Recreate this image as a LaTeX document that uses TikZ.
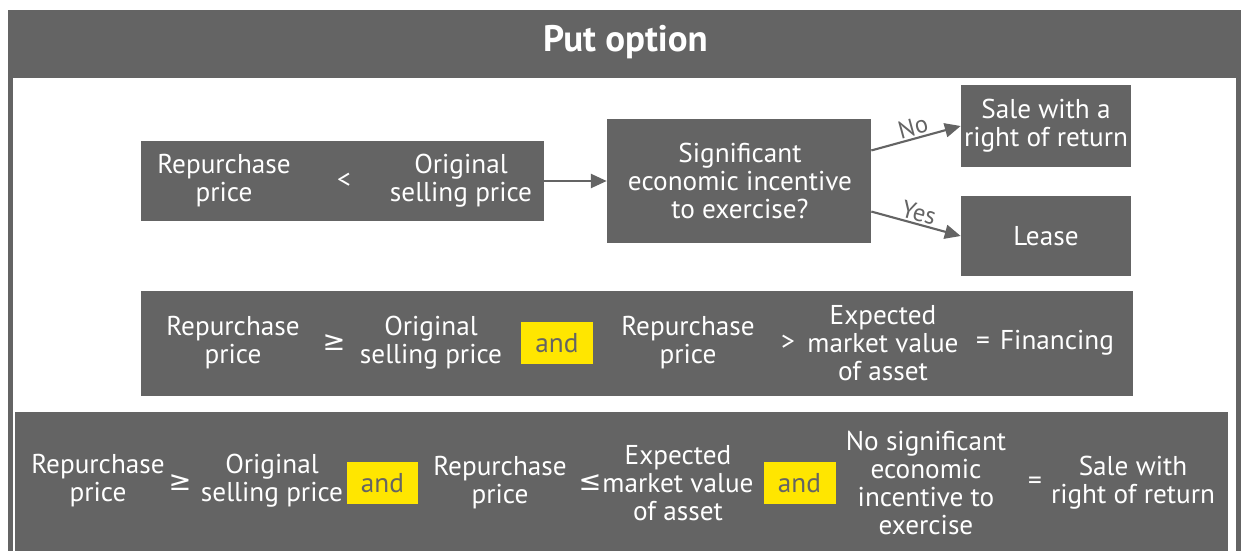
\documentclass[tikz,border=0pt]{standalone}
\usepackage{fontspec}
\setmainfont{PT Sans}
\newfontfamily\symfont{DejaVu Sans}
\usetikzlibrary{arrows.meta}
\definecolor{eygray}{RGB}{100,100,100}
\definecolor{eyyellow}{RGB}{255,230,0}
\tikzset{
  graybox/.style={fill=eygray, draw=none, inner sep=0pt},
  andbox/.style={fill=eyyellow, draw=none, inner sep=0pt, text=eygray,
    minimum width=1.44cm, minimum height=0.84cm, font=\fontsize{15.5}{16}\selectfont},
  txt/.style={text=white, align=center, inner sep=0pt, font=\fontsize{15.5}{16}\selectfont},
  flow/.style={draw=eygray, line width=1.2pt, -{Triangle[length=9pt,width=8pt]}},
  lbl/.style={text=eygray, inner sep=1pt, font=\fontsize{14}{16}\selectfont}
}
\begin{document}
\begin{tikzpicture}[x=0.02cm, y=-0.02cm]
		%%%%% START %%%%%
		\useasboundingbox (0,0) rectangle (1244,551);
		\fill[white] (0,0) rectangle (1244,551);
		
		% frame and title
		\draw[eygray, line width=0.1cm] (10.5,40) -- (10.5,560);
		\draw[eygray, line width=0.1cm] (1238.5,40) -- (1238.5,560);
		\node[graybox, minimum width=24.66cm, minimum height=1.36cm] (title) at (624.5,44) {};
		\node[text=white, font=\bfseries\fontsize{21}{24}\selectfont] (titletext) at (625.5,42) {Put option};
		
		% first row
		\node[graybox, minimum width=8.06cm, minimum height=1.62cm] (cond) at (342.5,181) {};
		\node[txt] (rp1) at (224,181) {Repurchase\\price};
		\node[txt] (lt1) at (344,181) {<};
		\node[txt] (osp1) at (461,181) {Original\\selling price};
		
		\node[graybox, minimum width=5.28cm, minimum height=2.5cm] (incentive) at (739,181) {};
		\node[txt] (inctext) at (740,181) {Significant\\economic incentive\\to exercise?};
		
		\node[graybox, minimum width=3.4cm, minimum height=1.64cm] (sale) at (1046,126) {};
		\node[txt] (saletext) at (1046,126) {Sale with a\\right of return};
		
		\node[graybox, minimum width=3.4cm, minimum height=1.6cm] (lease) at (1046,236) {};
		\node[txt] (leasetext) at (1046,236) {Lease};
		
		\draw[flow] (cond.east) -- (incentive.west);
		\draw[flow] (incentive.13) -- node[lbl, above, sloped] {No} (sale.west);
		\draw[flow] (incentive.-13) -- node[lbl, above, sloped] {Yes} (lease.west);
		
		% second row
		\node[graybox, minimum width=19.84cm, minimum height=2.1cm] (financing) at (637,343.5) {};
		\node[txt] (rp2) at (233,343) {Repurchase\\price};
		\node[txt] (ge2) at (334,343) {\symfont ≥};
		\node[txt] (osp2) at (431,343) {Original\\selling price};
		\node[andbox] (and2) at (557,343) {and};
		\node[txt] (rpb2) at (688,343) {Repurchase\\price};
		\node[txt] (gt2) at (788,343) {>};
		\node[txt] (emv2) at (883,343) {Expected\\market value\\of asset};
		\node[txt] (eq2) at (983,343) {=};
		\node[txt] (fin2) at (1057,343) {Financing};
		
		% third row
		\node[graybox, minimum width=24.26cm, minimum height=2.96cm] (salerow) at (621.5,486) {};
		\node[txt] (rp3) at (98,481) {Repurchase\\price};
		\node[txt] (ge3) at (180,483) {\symfont ≥};
		\node[txt] (osp3) at (272,481) {Original\\selling price};
		\node[andbox] (and3) at (382.5,483) {and};
		\node[txt] (rpb3) at (500,483) {Repurchase\\price};
		\node[txt] (le3) at (590,483) {\symfont ≤};
		\node[txt] (emv3) at (678,483) {Expected\\market value\\of asset};
		\node[andbox] (and4) at (799.5,483) {and};
		\node[txt] (noinc3) at (926,483) {No significant\\economic\\incentive to\\exercise};
		\node[txt] (eq3) at (1035,483) {=};
		\node[txt] (sale3) at (1133,483) {Sale with\\right of return};
		%%%%% END %%%%%
	\end{tikzpicture}
\end{document}
